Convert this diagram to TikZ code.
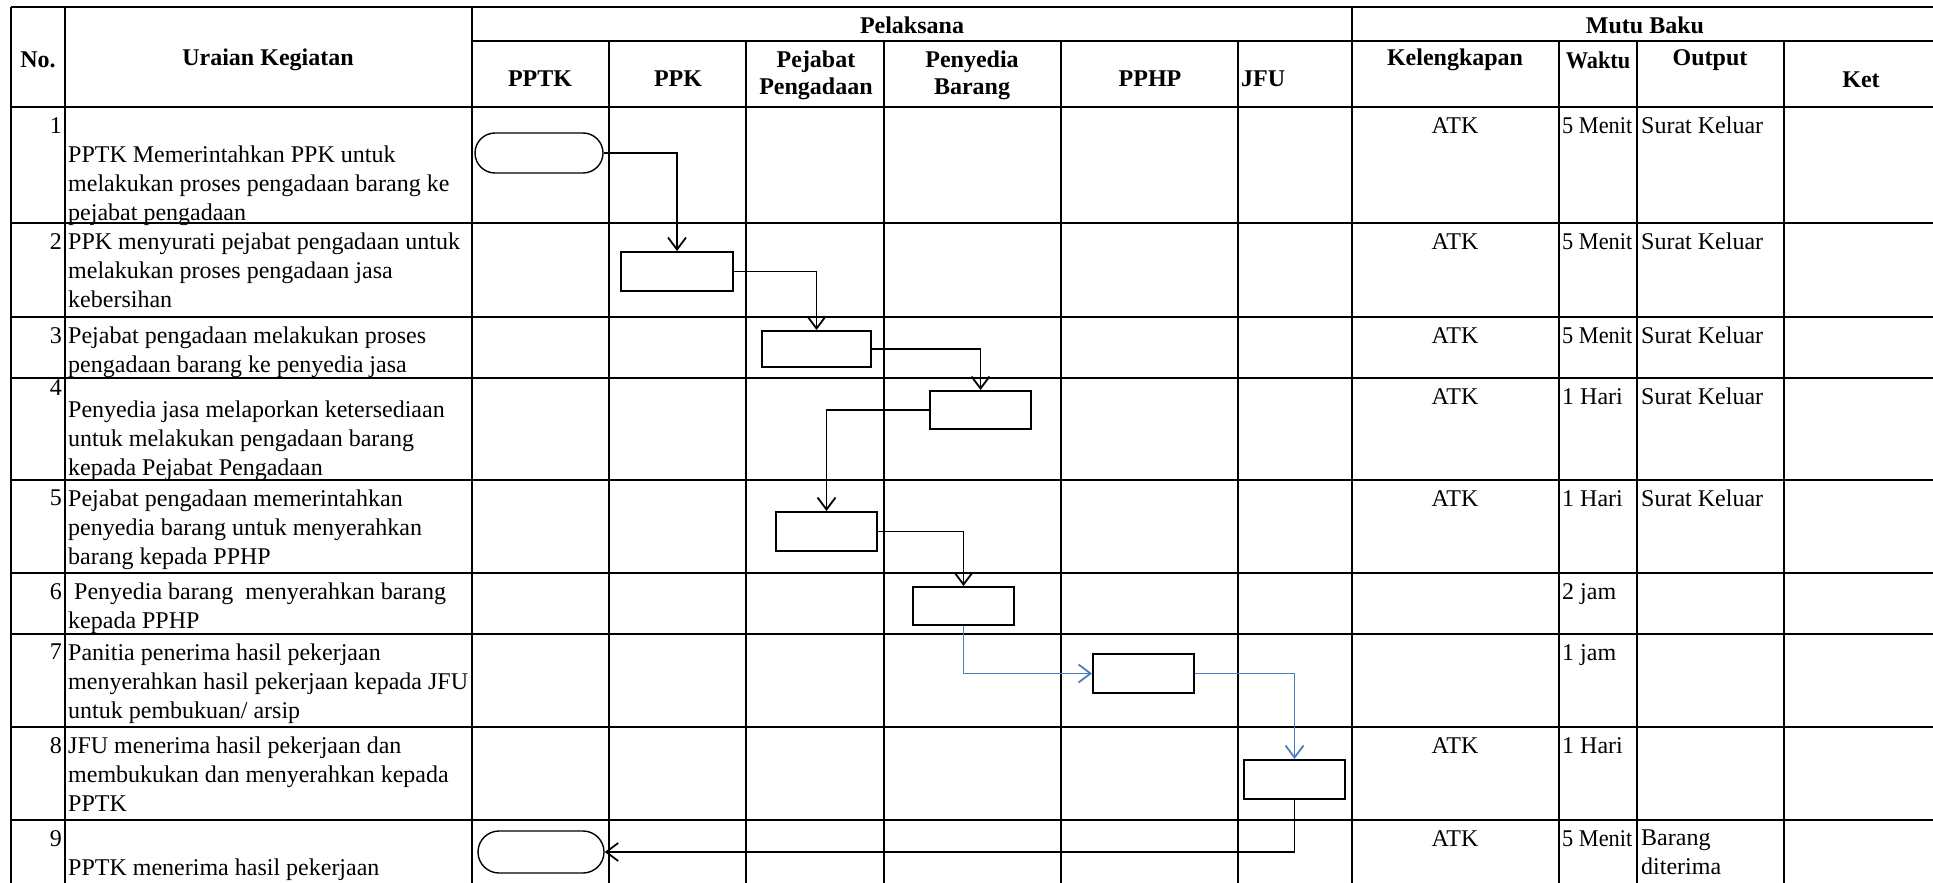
\documentclass[tikz,border=0pt]{standalone}
\usepackage{fontspec}
\setmainfont{Liberation Serif}
\usetikzlibrary{arrows.meta,positioning,shapes.misc}
\definecolor{flowblue}{HTML}{4A7EBB}
\newcommand{\squeezed}[1]{\scalebox{0.93}[1]{#1}}

\tikzset{
  gridline/.style={line width=2.2pt},
  procbox/.style={draw, line width=2pt, minimum width=101pt, minimum height=39pt, inner sep=0pt},
  termbox/.style={draw, rounded rectangle, line width=1.4pt, minimum width=128pt, minimum height=40pt, inner sep=0pt},
  flow/.style={line width=1.8pt, -{Straight Barb[length=12pt,width=18pt,line width=1.8pt]}},
  cell/.style={font=\fontsize{24}{29}\selectfont, inner sep=0pt, align=left},
  head/.style={font=\fontsize{24}{27}\selectfont\bfseries, inner sep=0pt, align=center},
}

\begin{document}
\begin{tikzpicture}[x=1pt, y=-1pt]
  \clip (0,0) rectangle (1933,883);
  \fill[white] (0,0) rectangle (1933,883);

  % Table grid
  \draw[gridline] (11,7) -- (1945,7);
  \draw[gridline] (472,41) -- (1945,41);
  \foreach \y in {107,223,317,378,480,573,634,727,820}
    \draw[gridline] (11,\y) -- (1945,\y);
  \foreach \x in {11,65,472,1352}
    \draw[gridline] (\x,7) -- (\x,890);
  \foreach \x in {609,746,884,1061,1238,1559,1637,1784}
    \draw[gridline] (\x,41) -- (\x,890);

  % Header
  \node[head] (hno) at (38,60) {No.};
  \node[head] (hura) at (268,60) {Uraian Kegiatan};
  \node[head] (hpel) at (912,25) {Pelaksana};
  \node[head] (hmutu) at (1645,25) {Mutu Baku};
  \node[head] (hpptk) at (540,79) {PPTK};
  \node[head] (hppk) at (678,79) {PPK};
  \node[head] (hpej) at (816,75) {Pejabat\\Pengadaan};
  \node[head] (hpeny) at (972,75) {Penyedia\\Barang};
  \node[head] (hpphp) at (1150,79) {PPHP};
  \node[head, anchor=west] (hjfu) at (1241,79) {JFU};
  \node[head] (hkel) at (1455,60) {Kelengkapan};
  \node[head] (hwak) at (1598,60) {\squeezed{Waktu}};
  \node[head] (hout) at (1710,60) {Output};
  \node[head] (hket) at (1861,80) {Ket};

  % Row numbers
  \node[cell, anchor=north east] (n1) at (62,117) {1};
  \node[cell, anchor=north east] (n2) at (62,233) {2};
  \node[cell, anchor=north east] (n3) at (62,327) {3};
  \node[cell, anchor=north east] (n4) at (62,379) {4};
  \node[cell, anchor=north east] (n5) at (62,490) {5};
  \node[cell, anchor=north east] (n6) at (62,583) {6};
  \node[cell, anchor=north east] (n7) at (62,644) {7};
  \node[cell, anchor=north east] (n8) at (62,737) {8};
  \node[cell, anchor=north east] (n9) at (62,830) {9};

  % Uraian Kegiatan
  \node[cell, anchor=north west] (u1) at (68,145.5) {PPTK Memerintahkan PPK untuk\\melakukan proses pengadaan barang ke\\pejabat pengadaan};
  \node[cell, anchor=north west] (u2) at (68,232.5) {PPK menyurati pejabat pengadaan untuk\\melakukan proses pengadaan jasa\\kebersihan};
  \node[cell, anchor=north west] (u3) at (68,326.5) {Pejabat pengadaan melakukan proses\\pengadaan barang ke penyedia jasa};
  \node[cell, anchor=north west] (u4) at (68,400.5) {Penyedia jasa melaporkan ketersediaan\\untuk melakukan pengadaan barang\\kepada Pejabat Pengadaan};
  \node[cell, anchor=north west] (u5) at (68,489.5) {Pejabat pengadaan memerintahkan\\penyedia barang untuk menyerahkan\\barang kepada PPHP};
  \node[cell, anchor=north west] (u6) at (68,582.5) {\hspace*{6pt}Penyedia barang\ \ menyerahkan barang\\kepada PPHP};
  \node[cell, anchor=north west] (u7) at (68,643.5) {Panitia penerima hasil pekerjaan\\menyerahkan hasil pekerjaan kepada JFU\\untuk pembukuan/ arsip};
  \node[cell, anchor=north west] (u8) at (68,736.5) {JFU menerima hasil pekerjaan dan\\membukukan dan menyerahkan kepada\\PPTK};
  \node[cell, anchor=north west] (u9) at (68,858.5) {PPTK menerima hasil pekerjaan};

  % Mutu Baku
  \node[cell, anchor=north] (k1) at (1455,117) {ATK};
  \node[cell, anchor=north] (k2) at (1455,233) {ATK};
  \node[cell, anchor=north] (k3) at (1455,327) {ATK};
  \node[cell, anchor=north] (k4) at (1455,388) {ATK};
  \node[cell, anchor=north] (k5) at (1455,490) {ATK};
  \node[cell, anchor=north] (k8) at (1455,737) {ATK};
  \node[cell, anchor=north] (k9) at (1455,830) {ATK};
  \node[cell, anchor=north west] (w1) at (1562,117) {\squeezed{5 Menit}};
  \node[cell, anchor=north west] (w2) at (1562,233) {\squeezed{5 Menit}};
  \node[cell, anchor=north west] (w3) at (1562,327) {\squeezed{5 Menit}};
  \node[cell, anchor=north west] (w4) at (1562,388) {1 Hari};
  \node[cell, anchor=north west] (w5) at (1562,490) {1 Hari};
  \node[cell, anchor=north west] (w6) at (1562,583) {2 jam};
  \node[cell, anchor=north west] (w7) at (1562,644) {1 jam};
  \node[cell, anchor=north west] (w8) at (1562,737) {1 Hari};
  \node[cell, anchor=north west] (w9) at (1562,830) {\squeezed{5 Menit}};
  \node[cell, anchor=north west] (o1) at (1641,117) {Surat Keluar};
  \node[cell, anchor=north west] (o2) at (1641,233) {Surat Keluar};
  \node[cell, anchor=north west] (o3) at (1641,327) {Surat Keluar};
  \node[cell, anchor=north west] (o4) at (1641,388) {Surat Keluar};
  \node[cell, anchor=north west] (o5) at (1641,490) {Surat Keluar};
  \node[cell, anchor=north west] (o9) at (1641,830) {Barang\\diterima};

  % Flow symbols
  \node[termbox] (t1) at (539,153) {};
  \node[procbox, minimum width=112pt] (b2) at (677,271.5) {};
  \node[procbox, minimum width=109pt, minimum height=36pt] (b3) at (816.5,349) {};
  \node[procbox, minimum height=38pt] (b4) at (980.5,410) {};
  \node[procbox] (b5) at (826.5,531.5) {};
  \node[procbox, minimum height=38pt] (b6) at (963.5,606) {};
  \node[procbox] (b7) at (1143.5,673.5) {};
  \node[procbox] (b8) at (1294.5,779.5) {};
  \node[termbox, minimum width=126pt, minimum height=42pt] (t9) at (541,852) {};

  % Connectors
  \draw[flow] (t1.east) -| (b2.north);
  \draw[flow] (b2.east) -| (b3.north);
  \draw[flow] (b3.east) -| (b4.north);
  \draw[flow] (b4.west) -| (b5.north);
  \draw[flow] (b5.east) -| (b6.north);
  \draw[flow, flowblue] (b6.south) |- (b7.west);
  \draw[flow, flowblue] (b7.east) -| (b8.north);
  \draw[flow] (b8.south) |- (t9.east);
\end{tikzpicture}
\end{document}
